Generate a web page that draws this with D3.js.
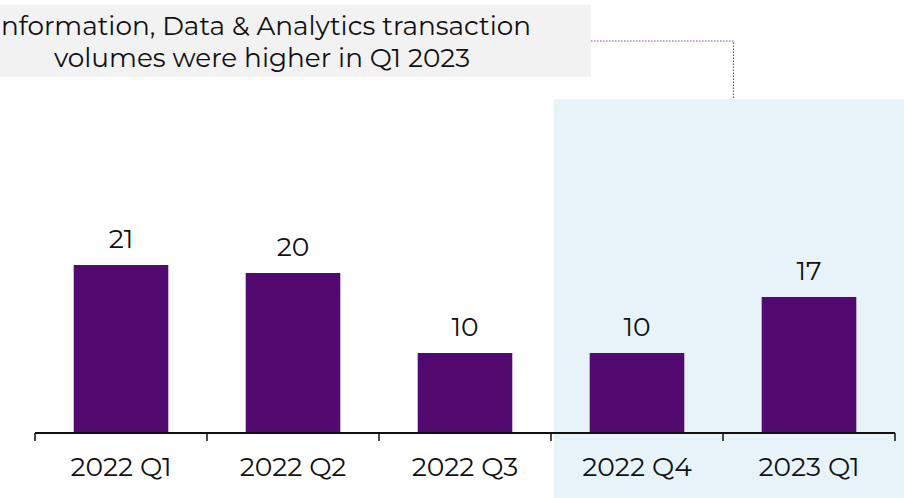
<!DOCTYPE html>
<html><head><meta charset="utf-8">
<script src="https://cdn.jsdelivr.net/npm/d3@7"></script>
<style>body{margin:0;background:#fff}svg{display:block}</style>
</head><body>
<svg id="c" width="904" height="498"></svg>
<script>
const categories = ["2022 Q1","2022 Q2","2022 Q3","2022 Q4","2023 Q1"];
const values = [21, 20, 10, 10, 17];
const titleLines = ["Information, Data & Analytics transaction","volumes were higher in Q1 2023"];
const highlighted = ["2022 Q4","2023 Q1"];

const svg = d3.select("#c");
const font = "Montserrat, 'Open Sans', 'DejaVu Sans', sans-serif";
const x = d3.scaleBand().domain(categories).range([35, 895]).paddingInner(0.45).paddingOuter(0.225);
const xb = d3.scaleBand().domain(categories).range([35, 895]);
const y = d3.scaleLinear().domain([0, 40]).range([433, 113]);

// highlight panel
svg.append("rect").attr("x", xb(highlighted[0]) + 3).attr("y", 99)
  .attr("width", 904 - xb(highlighted[0]) - 3).attr("height", 400).attr("fill", "#e8f2f9");

// title box
svg.append("rect").attr("x", -70).attr("y", 5).attr("width", 661).attr("height", 72).attr("fill", "#f2f2f2");
svg.selectAll("text.title").data(titleLines).join("text").attr("class","title")
  .attr("x", 262).attr("y", (d,i)=> 35 + i*31.5).attr("text-anchor","middle")
  .attr("font-family", font).attr("font-size", 26.3).attr("fill","#111").text(d=>d);

// connector
svg.append("path").attr("d", "M591,41 H733.5 V99").attr("fill","none")
  .attr("stroke","#7b4a9a").attr("stroke-width",1.2).attr("stroke-dasharray","1.5,1.5");

// bars
svg.selectAll("rect.bar").data(values).join("rect").attr("class","bar")
  .attr("x",(d,i)=>x(categories[i])).attr("width",x.bandwidth())
  .attr("y",d=>y(d)).attr("height",d=>y(0)-y(d)).attr("fill","#520a71");

svg.selectAll("text.val").data(values).join("text").attr("class","val")
  .attr("x",(d,i)=>x(categories[i])+x.bandwidth()/2).attr("y",d=>y(d)-17)
  .attr("text-anchor","middle").attr("font-family",font).attr("font-size",26.5).attr("fill","#111").text(d=>d);

// axis
const g = svg.append("g").attr("transform","translate(0,433)");
g.append("line").attr("x1",35).attr("x2",895).attr("stroke","#111").attr("stroke-width",2);
const edges = categories.map(c=>xb(c)).concat([xb.range()[1]]);
g.selectAll("line.tk").data(edges).join("line").attr("class","tk")
  .attr("x1",d=>d).attr("x2",d=>d).attr("y1",0).attr("y2",8).attr("stroke","#111").attr("stroke-width",1.5);
g.selectAll("text.lab").data(categories).join("text").attr("class","lab")
  .attr("x",d=>xb(d)+xb.bandwidth()/2).attr("y",43).attr("text-anchor","middle")
  .attr("font-family",font).attr("font-size",26.5).attr("fill","#111").text(d=>d);
</script>
</body></html>
